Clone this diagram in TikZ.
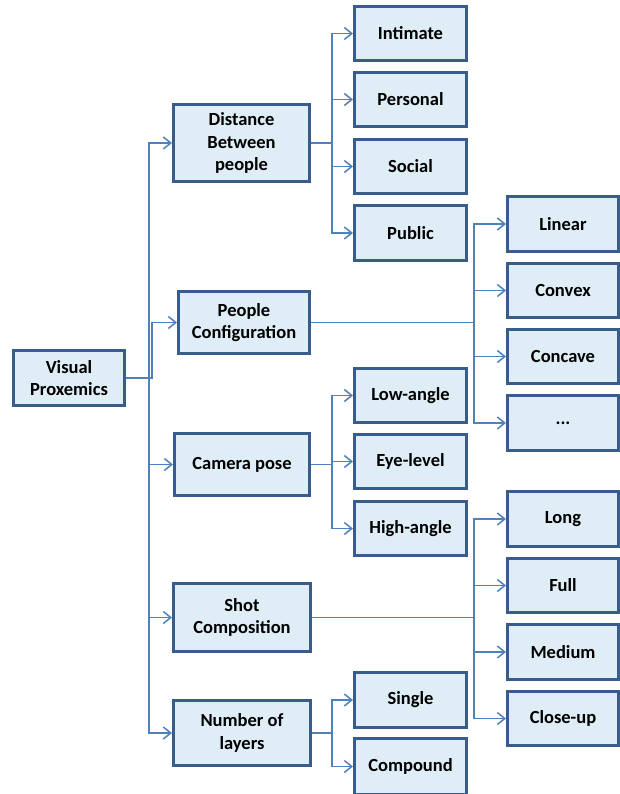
\documentclass[tikz,border=0pt]{standalone}
\usepackage{fontspec}
\setmainfont{Carlito}
\usetikzlibrary{arrows.meta}
\definecolor{boxfill}{RGB}{222,237,246}
\definecolor{boxline}{RGB}{56,93,138}
\definecolor{conncol}{RGB}{79,129,189}
\tikzset{
  box/.style={draw=boxline, fill=boxfill, line width=3pt, align=center,
    font=\fontsize{18.5}{22.5}\selectfont\bfseries, inner sep=0pt},
  conn/.style={draw=conncol, line width=1.5pt, -{Straight Barb[length=7.5pt,width=12pt,line width=1.5pt]}}
}
\newcommand{\bx}[7]{\node[box, minimum width=#5pt, minimum height=#6pt] (#1) at (#3,#4) {#7};}
\begin{document}
\begin{tikzpicture}[x=1pt,y=-1pt]
\useasboundingbox (0,0) rectangle (620,794);
% level 0
\bx{vp}{}{69}{378}{111}{55}{Visual\\Proxemics}
% level 1
\bx{dist}{}{241.5}{143}{136}{77}{Distance\\Between\\people}
\bx{pc}{}{244}{322.5}{131}{62}{People\\Configuration}
\bx{cam}{}{242}{464.5}{135}{62}{Camera pose}
\bx{shot}{}{242}{617.5}{137}{68}{Shot\\Composition}
\bx{lay}{}{242}{733}{137}{65}{Number of\\layers}
% column 1
\bx{intimate}{}{410.5}{33.5}{112}{54}{Intimate}
\bx{personal}{}{410.5}{99.5}{112}{54}{Personal}
\bx{social}{}{410.5}{166.5}{112}{54}{Social}
\bx{public}{}{410.5}{233}{112}{55}{Public}
\bx{low}{}{410.5}{395.5}{112}{54}{Low-angle}
\bx{eye}{}{410.5}{461.5}{112}{54}{Eye-level}
\bx{high}{}{410.5}{528.5}{112}{54}{High-angle}
\bx{single}{}{410.5}{700}{112}{55}{Single}
\bx{compound}{}{410.5}{766.5}{112}{56}{Compound}
% column 2
\bx{linear}{}{563}{224}{111}{55}{Linear}
\bx{convex}{}{563}{290.5}{111}{54}{Convex}
\bx{concave}{}{563}{356.5}{111}{54}{Concave}
\bx{etc}{}{563}{423}{111}{55}{...}
\bx{long}{}{563}{519}{111}{55}{Long}
\bx{full}{}{563}{585.5}{111}{54}{Full}
\bx{medium}{}{563}{652}{111}{55}{Medium}
\bx{closeup}{}{563}{718.5}{111}{54}{Close-up}
% connectors from root
\draw[conn] (vp.east) -- ++(23,0) |- (dist.west);
\draw[conn] (vp.east) -- ++(26,0) |- (pc.west);
\draw[conn] (vp.east) -- ++(23,0) |- (cam.west);
\draw[conn] (vp.east) -- ++(23,0) |- (shot.west);
\draw[conn] (vp.east) -- ++(23,0) |- (lay.west);
% distance
\foreach \c in {intimate,personal,social,public}
  \draw[conn] (dist.east) -- ++(21,0) |- (\c.west);
% configuration
\foreach \c in {linear,convex,concave,etc}
  \draw[conn] (pc.east) -- ++(163,0) |- (\c.west);
% camera
\foreach \c in {low,eye,high}
  \draw[conn] (cam.east) -- ++(21,0) |- (\c.west);
% shot
\foreach \c in {long,full,medium,closeup}
  \draw[conn] (shot.east) -- ++(162,0) |- (\c.west);
% layers
\foreach \c in {single,compound}
  \draw[conn] (lay.east) -- ++(20,0) |- (\c.west);
\end{tikzpicture}
\end{document}
